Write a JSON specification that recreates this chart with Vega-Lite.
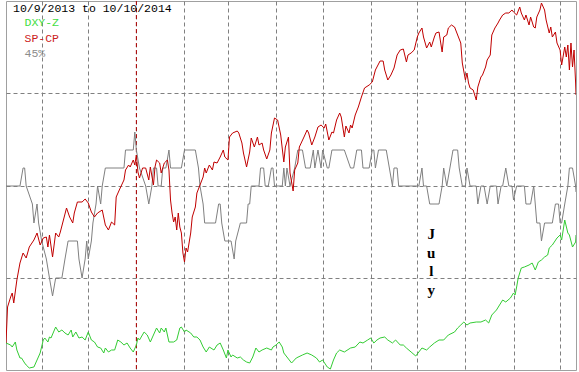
{
"$schema":"https://vega.github.io/schema/vega-lite/v6.json",
"width":570,"height":369,
"autosize":{"type":"none"},
"padding":{"left":6,"top":1,"right":3,"bottom":2},
"background":"#ffffff",
"config":{"view":{"stroke":"#a0a0a0","strokeWidth":1},
"axis":{"domain":false,"ticks":false,"labels":false,"gridColor":"#808080","gridDash":[4,3],"gridWidth":1,"gridOpacity":1}},
"layer":[
{"data":{"values":[{"date":"2014/01/01"}]},
"mark":{"type":"rule","color":"#b00000","strokeDash":[4,3],"strokeWidth":1},
"encoding":{"x":{"field":"date","type":"temporal","title":null,"scale":{"domain":[{"year":2013,"month":10,"date":9},{"year":2014,"month":10,"date":11,"hours":6}]},"axis":{"values":[{"year":2013,"month":11,"date":1},{"year":2013,"month":12,"date":1},{"year":2014,"month":1,"date":1},{"year":2014,"month":2,"date":1},{"year":2014,"month":3,"date":1},{"year":2014,"month":4,"date":1},{"year":2014,"month":5,"date":1},{"year":2014,"month":6,"date":1},{"year":2014,"month":7,"date":1},{"year":2014,"month":8,"date":1},{"year":2014,"month":9,"date":1},{"year":2014,"month":10,"date":1}]}}}},
{"data":{"values":[
{"series":"45%","date":"2013/10/09","value":184},{"series":"45%","date":"2013/10/18","value":184},{"series":"45%","date":"2013/10/20","value":202},{"series":"45%","date":"2013/10/21","value":202},{"series":"45%","date":"2013/10/22","value":184},{"series":"45%","date":"2013/10/26","value":166},{"series":"45%","date":"2013/10/27","value":147},{"series":"45%","date":"2013/10/29","value":166},{"series":"45%","date":"2013/10/30","value":147},{"series":"45%","date":"2013/11/01","value":129},{"series":"45%","date":"2013/11/04","value":111},{"series":"45%","date":"2013/11/06","value":92},{"series":"45%","date":"2013/11/08","value":74},{"series":"45%","date":"2013/11/10","value":92},{"series":"45%","date":"2013/11/14","value":92},{"series":"45%","date":"2013/11/16","value":111},{"series":"45%","date":"2013/11/18","value":129},{"series":"45%","date":"2013/11/24","value":129},{"series":"45%","date":"2013/11/25","value":111},{"series":"45%","date":"2013/11/27","value":92},{"series":"45%","date":"2013/11/29","value":111},{"series":"45%","date":"2013/11/30","value":129},{"series":"45%","date":"2013/12/01","value":111},{"series":"45%","date":"2013/12/03","value":129},{"series":"45%","date":"2013/12/04","value":147},{"series":"45%","date":"2013/12/06","value":166},{"series":"45%","date":"2013/12/07","value":184},{"series":"45%","date":"2013/12/09","value":166},{"series":"45%","date":"2013/12/10","value":184},{"series":"45%","date":"2013/12/12","value":202},{"series":"45%","date":"2013/12/24","value":202},{"series":"45%","date":"2013/12/25","value":220},{"series":"45%","date":"2013/12/30","value":220},{"series":"45%","date":"2013/12/31","value":238},{"series":"45%","date":"2014/01/01","value":220},{"series":"45%","date":"2014/01/03","value":202},{"series":"45%","date":"2014/01/07","value":184},{"series":"45%","date":"2014/01/09","value":166},{"series":"45%","date":"2014/01/11","value":184},{"series":"45%","date":"2014/01/12","value":202},{"series":"45%","date":"2014/01/14","value":202},{"series":"45%","date":"2014/01/15","value":184},{"series":"45%","date":"2014/01/17","value":184},{"series":"45%","date":"2014/01/18","value":202},{"series":"45%","date":"2014/01/20","value":202},{"series":"45%","date":"2014/01/22","value":220},{"series":"45%","date":"2014/01/23","value":202},{"series":"45%","date":"2014/01/30","value":202},{"series":"45%","date":"2014/02/01","value":220},{"series":"45%","date":"2014/02/08","value":220},{"series":"45%","date":"2014/02/10","value":202},{"series":"45%","date":"2014/02/11","value":184},{"series":"45%","date":"2014/02/13","value":166},{"series":"45%","date":"2014/02/14","value":147},{"series":"45%","date":"2014/02/21","value":147},{"series":"45%","date":"2014/02/23","value":166},{"series":"45%","date":"2014/02/24","value":166},{"series":"45%","date":"2014/02/25","value":147},{"series":"45%","date":"2014/02/27","value":129},{"series":"45%","date":"2014/03/03","value":129},{"series":"45%","date":"2014/03/05","value":111},{"series":"45%","date":"2014/03/06","value":129},{"series":"45%","date":"2014/03/09","value":147},{"series":"45%","date":"2014/03/13","value":147},{"series":"45%","date":"2014/03/14","value":166},{"series":"45%","date":"2014/03/15","value":166},{"series":"45%","date":"2014/03/16","value":184},{"series":"45%","date":"2014/03/21","value":184},{"series":"45%","date":"2014/03/22","value":202},{"series":"45%","date":"2014/03/24","value":202},{"series":"45%","date":"2014/03/25","value":184},{"series":"45%","date":"2014/03/27","value":184},{"series":"45%","date":"2014/03/29","value":202},{"series":"45%","date":"2014/03/30","value":202},{"series":"45%","date":"2014/03/31","value":184},{"series":"45%","date":"2014/04/05","value":184},{"series":"45%","date":"2014/04/06","value":202},{"series":"45%","date":"2014/04/07","value":184},{"series":"45%","date":"2014/04/08","value":202},{"series":"45%","date":"2014/04/10","value":184},{"series":"45%","date":"2014/04/13","value":202},{"series":"45%","date":"2014/04/15","value":220},{"series":"45%","date":"2014/04/18","value":220},{"series":"45%","date":"2014/04/20","value":202},{"series":"45%","date":"2014/04/23","value":202},{"series":"45%","date":"2014/04/25","value":220},{"series":"45%","date":"2014/04/26","value":202},{"series":"45%","date":"2014/04/28","value":220},{"series":"45%","date":"2014/04/30","value":202},{"series":"45%","date":"2014/05/01","value":220},{"series":"45%","date":"2014/05/04","value":202},{"series":"45%","date":"2014/05/05","value":202},{"series":"45%","date":"2014/05/07","value":220},{"series":"45%","date":"2014/05/15","value":220},{"series":"45%","date":"2014/05/19","value":202},{"series":"45%","date":"2014/05/21","value":202},{"series":"45%","date":"2014/05/23","value":220},{"series":"45%","date":"2014/05/26","value":220},{"series":"45%","date":"2014/05/27","value":202},{"series":"45%","date":"2014/05/31","value":202},{"series":"45%","date":"2014/06/02","value":220},{"series":"45%","date":"2014/06/03","value":220},{"series":"45%","date":"2014/06/04","value":202},{"series":"45%","date":"2014/06/06","value":220},{"series":"45%","date":"2014/06/11","value":220},{"series":"45%","date":"2014/06/15","value":184},{"series":"45%","date":"2014/06/16","value":202},{"series":"45%","date":"2014/06/18","value":202},{"series":"45%","date":"2014/06/19","value":184},{"series":"45%","date":"2014/07/02","value":184},{"series":"45%","date":"2014/07/04","value":202},{"series":"45%","date":"2014/07/05","value":184},{"series":"45%","date":"2014/07/07","value":184},{"series":"45%","date":"2014/07/09","value":166},{"series":"45%","date":"2014/07/15","value":166},{"series":"45%","date":"2014/07/17","value":184},{"series":"45%","date":"2014/07/18","value":202},{"series":"45%","date":"2014/07/20","value":184},{"series":"45%","date":"2014/07/22","value":202},{"series":"45%","date":"2014/07/24","value":220},{"series":"45%","date":"2014/07/27","value":220},{"series":"45%","date":"2014/07/28","value":202},{"series":"45%","date":"2014/07/30","value":184},{"series":"45%","date":"2014/08/01","value":184},{"series":"45%","date":"2014/08/02","value":202},{"series":"45%","date":"2014/08/04","value":184},{"series":"45%","date":"2014/08/08","value":184},{"series":"45%","date":"2014/08/09","value":166},{"series":"45%","date":"2014/08/11","value":184},{"series":"45%","date":"2014/08/13","value":184},{"series":"45%","date":"2014/08/15","value":166},{"series":"45%","date":"2014/08/17","value":184},{"series":"45%","date":"2014/08/21","value":184},{"series":"45%","date":"2014/08/22","value":166},{"series":"45%","date":"2014/08/24","value":184},{"series":"45%","date":"2014/08/25","value":184},{"series":"45%","date":"2014/08/27","value":202},{"series":"45%","date":"2014/08/29","value":184},{"series":"45%","date":"2014/08/31","value":184},{"series":"45%","date":"2014/09/01","value":170},{"series":"45%","date":"2014/09/03","value":184},{"series":"45%","date":"2014/09/08","value":184},{"series":"45%","date":"2014/09/09","value":166},{"series":"45%","date":"2014/09/12","value":166},{"series":"45%","date":"2014/09/14","value":184},{"series":"45%","date":"2014/09/15","value":166},{"series":"45%","date":"2014/09/16","value":147},{"series":"45%","date":"2014/09/18","value":147},{"series":"45%","date":"2014/09/19","value":129},{"series":"45%","date":"2014/09/21","value":147},{"series":"45%","date":"2014/09/26","value":147},{"series":"45%","date":"2014/09/28","value":166},{"series":"45%","date":"2014/09/30","value":166},{"series":"45%","date":"2014/10/01","value":147},{"series":"45%","date":"2014/10/02","value":147},{"series":"45%","date":"2014/10/04","value":166},{"series":"45%","date":"2014/10/06","value":184},{"series":"45%","date":"2014/10/07","value":202},{"series":"45%","date":"2014/10/09","value":202},{"series":"45%","date":"2014/10/11","value":184},{"series":"45%","date":"2014/10/11 06:00","value":178},
{"series":"DXY-Z","date":"2013/10/09","value":27},{"series":"DXY-Z","date":"2013/10/12","value":25},{"series":"DXY-Z","date":"2013/10/13","value":23},{"series":"DXY-Z","date":"2013/10/15","value":28},{"series":"DXY-Z","date":"2013/10/16","value":20},{"series":"DXY-Z","date":"2013/10/18","value":12},{"series":"DXY-Z","date":"2013/10/19","value":12},{"series":"DXY-Z","date":"2013/10/21","value":7},{"series":"DXY-Z","date":"2013/10/22","value":5},{"series":"DXY-Z","date":"2013/10/24","value":2},{"series":"DXY-Z","date":"2013/10/27","value":3},{"series":"DXY-Z","date":"2013/10/29","value":10},{"series":"DXY-Z","date":"2013/10/31","value":17},{"series":"DXY-Z","date":"2013/11/02","value":30},{"series":"DXY-Z","date":"2013/11/03","value":32},{"series":"DXY-Z","date":"2013/11/05","value":28},{"series":"DXY-Z","date":"2013/11/06","value":33},{"series":"DXY-Z","date":"2013/11/07","value":32},{"series":"DXY-Z","date":"2013/11/10","value":43},{"series":"DXY-Z","date":"2013/11/12","value":38},{"series":"DXY-Z","date":"2013/11/14","value":40},{"series":"DXY-Z","date":"2013/11/16","value":37},{"series":"DXY-Z","date":"2013/11/18","value":35},{"series":"DXY-Z","date":"2013/11/20","value":40},{"series":"DXY-Z","date":"2013/11/21","value":33},{"series":"DXY-Z","date":"2013/11/23","value":38},{"series":"DXY-Z","date":"2013/11/25","value":32},{"series":"DXY-Z","date":"2013/11/27","value":33},{"series":"DXY-Z","date":"2013/11/29","value":30},{"series":"DXY-Z","date":"2013/12/01","value":38},{"series":"DXY-Z","date":"2013/12/03","value":30},{"series":"DXY-Z","date":"2013/12/05","value":28},{"series":"DXY-Z","date":"2013/12/07","value":23},{"series":"DXY-Z","date":"2013/12/09","value":22},{"series":"DXY-Z","date":"2013/12/11","value":17},{"series":"DXY-Z","date":"2013/12/12","value":22},{"series":"DXY-Z","date":"2013/12/14","value":18},{"series":"DXY-Z","date":"2013/12/16","value":20},{"series":"DXY-Z","date":"2013/12/18","value":20},{"series":"DXY-Z","date":"2013/12/20","value":30},{"series":"DXY-Z","date":"2013/12/22","value":28},{"series":"DXY-Z","date":"2013/12/24","value":25},{"series":"DXY-Z","date":"2013/12/26","value":27},{"series":"DXY-Z","date":"2013/12/28","value":22},{"series":"DXY-Z","date":"2013/12/30","value":18},{"series":"DXY-Z","date":"2014/01/01","value":25},{"series":"DXY-Z","date":"2014/01/02","value":32},{"series":"DXY-Z","date":"2014/01/03","value":30},{"series":"DXY-Z","date":"2014/01/06","value":38},{"series":"DXY-Z","date":"2014/01/08","value":35},{"series":"DXY-Z","date":"2014/01/10","value":28},{"series":"DXY-Z","date":"2014/01/12","value":35},{"series":"DXY-Z","date":"2014/01/14","value":42},{"series":"DXY-Z","date":"2014/01/16","value":37},{"series":"DXY-Z","date":"2014/01/17","value":42},{"series":"DXY-Z","date":"2014/01/19","value":38},{"series":"DXY-Z","date":"2014/01/20","value":42},{"series":"DXY-Z","date":"2014/01/22","value":28},{"series":"DXY-Z","date":"2014/01/25","value":28},{"series":"DXY-Z","date":"2014/01/27","value":30},{"series":"DXY-Z","date":"2014/01/29","value":42},{"series":"DXY-Z","date":"2014/01/30","value":43},{"series":"DXY-Z","date":"2014/02/01","value":38},{"series":"DXY-Z","date":"2014/02/02","value":40},{"series":"DXY-Z","date":"2014/02/05","value":37},{"series":"DXY-Z","date":"2014/02/07","value":33},{"series":"DXY-Z","date":"2014/02/09","value":33},{"series":"DXY-Z","date":"2014/02/11","value":30},{"series":"DXY-Z","date":"2014/02/13","value":23},{"series":"DXY-Z","date":"2014/02/15","value":18},{"series":"DXY-Z","date":"2014/02/17","value":23},{"series":"DXY-Z","date":"2014/02/20","value":20},{"series":"DXY-Z","date":"2014/02/22","value":25},{"series":"DXY-Z","date":"2014/02/24","value":27},{"series":"DXY-Z","date":"2014/02/26","value":20},{"series":"DXY-Z","date":"2014/02/28","value":12},{"series":"DXY-Z","date":"2014/03/01","value":20},{"series":"DXY-Z","date":"2014/03/03","value":13},{"series":"DXY-Z","date":"2014/03/04","value":15},{"series":"DXY-Z","date":"2014/03/07","value":12},{"series":"DXY-Z","date":"2014/03/09","value":13},{"series":"DXY-Z","date":"2014/03/11","value":10},{"series":"DXY-Z","date":"2014/03/13","value":8},{"series":"DXY-Z","date":"2014/03/15","value":7},{"series":"DXY-Z","date":"2014/03/17","value":13},{"series":"DXY-Z","date":"2014/03/19","value":22},{"series":"DXY-Z","date":"2014/03/21","value":18},{"series":"DXY-Z","date":"2014/03/23","value":20},{"series":"DXY-Z","date":"2014/03/26","value":22},{"series":"DXY-Z","date":"2014/03/29","value":20},{"series":"DXY-Z","date":"2014/03/30","value":23},{"series":"DXY-Z","date":"2014/04/01","value":25},{"series":"DXY-Z","date":"2014/04/03","value":28},{"series":"DXY-Z","date":"2014/04/05","value":23},{"series":"DXY-Z","date":"2014/04/06","value":17},{"series":"DXY-Z","date":"2014/04/08","value":13},{"series":"DXY-Z","date":"2014/04/11","value":7},{"series":"DXY-Z","date":"2014/04/14","value":12},{"series":"DXY-Z","date":"2014/04/18","value":15},{"series":"DXY-Z","date":"2014/04/21","value":17},{"series":"DXY-Z","date":"2014/04/24","value":15},{"series":"DXY-Z","date":"2014/04/27","value":12},{"series":"DXY-Z","date":"2014/04/29","value":8},{"series":"DXY-Z","date":"2014/05/01","value":10},{"series":"DXY-Z","date":"2014/05/04","value":3},{"series":"DXY-Z","date":"2014/05/06","value":1},{"series":"DXY-Z","date":"2014/05/08","value":10},{"series":"DXY-Z","date":"2014/05/10","value":17},{"series":"DXY-Z","date":"2014/05/12","value":20},{"series":"DXY-Z","date":"2014/05/15","value":18},{"series":"DXY-Z","date":"2014/05/19","value":22},{"series":"DXY-Z","date":"2014/05/22","value":23},{"series":"DXY-Z","date":"2014/05/25","value":28},{"series":"DXY-Z","date":"2014/05/27","value":27},{"series":"DXY-Z","date":"2014/05/30","value":30},{"series":"DXY-Z","date":"2014/06/01","value":32},{"series":"DXY-Z","date":"2014/06/03","value":27},{"series":"DXY-Z","date":"2014/06/05","value":30},{"series":"DXY-Z","date":"2014/06/07","value":32},{"series":"DXY-Z","date":"2014/06/10","value":33},{"series":"DXY-Z","date":"2014/06/12","value":30},{"series":"DXY-Z","date":"2014/06/15","value":27},{"series":"DXY-Z","date":"2014/06/17","value":30},{"series":"DXY-Z","date":"2014/06/20","value":25},{"series":"DXY-Z","date":"2014/06/22","value":25},{"series":"DXY-Z","date":"2014/06/24","value":22},{"series":"DXY-Z","date":"2014/06/27","value":18},{"series":"DXY-Z","date":"2014/06/30","value":14},{"series":"DXY-Z","date":"2014/07/02","value":18},{"series":"DXY-Z","date":"2014/07/04","value":22},{"series":"DXY-Z","date":"2014/07/07","value":20},{"series":"DXY-Z","date":"2014/07/09","value":23},{"series":"DXY-Z","date":"2014/07/12","value":27},{"series":"DXY-Z","date":"2014/07/15","value":30},{"series":"DXY-Z","date":"2014/07/18","value":30},{"series":"DXY-Z","date":"2014/07/21","value":35},{"series":"DXY-Z","date":"2014/07/25","value":38},{"series":"DXY-Z","date":"2014/07/27","value":42},{"series":"DXY-Z","date":"2014/07/29","value":45},{"series":"DXY-Z","date":"2014/07/31","value":48},{"series":"DXY-Z","date":"2014/08/02","value":45},{"series":"DXY-Z","date":"2014/08/04","value":47},{"series":"DXY-Z","date":"2014/08/08","value":48},{"series":"DXY-Z","date":"2014/08/11","value":48},{"series":"DXY-Z","date":"2014/08/14","value":50},{"series":"DXY-Z","date":"2014/08/16","value":47},{"series":"DXY-Z","date":"2014/08/18","value":55},{"series":"DXY-Z","date":"2014/08/21","value":60},{"series":"DXY-Z","date":"2014/08/23","value":65},{"series":"DXY-Z","date":"2014/08/25","value":70},{"series":"DXY-Z","date":"2014/08/27","value":68},{"series":"DXY-Z","date":"2014/08/30","value":72},{"series":"DXY-Z","date":"2014/09/01","value":77},{"series":"DXY-Z","date":"2014/09/02","value":75},{"series":"DXY-Z","date":"2014/09/03","value":83},{"series":"DXY-Z","date":"2014/09/04","value":92},{"series":"DXY-Z","date":"2014/09/06","value":102},{"series":"DXY-Z","date":"2014/09/08","value":103},{"series":"DXY-Z","date":"2014/09/11","value":105},{"series":"DXY-Z","date":"2014/09/13","value":107},{"series":"DXY-Z","date":"2014/09/15","value":100},{"series":"DXY-Z","date":"2014/09/17","value":108},{"series":"DXY-Z","date":"2014/09/19","value":110},{"series":"DXY-Z","date":"2014/09/21","value":113},{"series":"DXY-Z","date":"2014/09/23","value":115},{"series":"DXY-Z","date":"2014/09/24","value":122},{"series":"DXY-Z","date":"2014/09/26","value":125},{"series":"DXY-Z","date":"2014/09/29","value":132},{"series":"DXY-Z","date":"2014/10/01","value":135},{"series":"DXY-Z","date":"2014/10/02","value":130},{"series":"DXY-Z","date":"2014/10/03","value":140},{"series":"DXY-Z","date":"2014/10/04","value":150},{"series":"DXY-Z","date":"2014/10/06","value":137},{"series":"DXY-Z","date":"2014/10/07","value":135},{"series":"DXY-Z","date":"2014/10/09","value":123},{"series":"DXY-Z","date":"2014/10/11","value":128},{"series":"DXY-Z","date":"2014/10/11 06:00","value":135},
{"series":"SP-CP","date":"2013/10/09","value":27},{"series":"SP-CP","date":"2013/10/10","value":63},{"series":"SP-CP","date":"2013/10/12","value":73},{"series":"SP-CP","date":"2013/10/13","value":77},{"series":"SP-CP","date":"2013/10/14","value":67},{"series":"SP-CP","date":"2013/10/16","value":90},{"series":"SP-CP","date":"2013/10/18","value":107},{"series":"SP-CP","date":"2013/10/20","value":117},{"series":"SP-CP","date":"2013/10/22","value":112},{"series":"SP-CP","date":"2013/10/24","value":123},{"series":"SP-CP","date":"2013/10/27","value":130},{"series":"SP-CP","date":"2013/10/29","value":137},{"series":"SP-CP","date":"2013/10/31","value":125},{"series":"SP-CP","date":"2013/11/02","value":132},{"series":"SP-CP","date":"2013/11/04","value":133},{"series":"SP-CP","date":"2013/11/05","value":123},{"series":"SP-CP","date":"2013/11/06","value":135},{"series":"SP-CP","date":"2013/11/08","value":113},{"series":"SP-CP","date":"2013/11/10","value":137},{"series":"SP-CP","date":"2013/11/12","value":133},{"series":"SP-CP","date":"2013/11/13","value":138},{"series":"SP-CP","date":"2013/11/15","value":150},{"series":"SP-CP","date":"2013/11/17","value":162},{"series":"SP-CP","date":"2013/11/19","value":153},{"series":"SP-CP","date":"2013/11/21","value":147},{"series":"SP-CP","date":"2013/11/22","value":157},{"series":"SP-CP","date":"2013/11/24","value":168},{"series":"SP-CP","date":"2013/11/27","value":168},{"series":"SP-CP","date":"2013/11/29","value":171},{"series":"SP-CP","date":"2013/12/01","value":167},{"series":"SP-CP","date":"2013/12/03","value":158},{"series":"SP-CP","date":"2013/12/05","value":153},{"series":"SP-CP","date":"2013/12/07","value":157},{"series":"SP-CP","date":"2013/12/10","value":160},{"series":"SP-CP","date":"2013/12/12","value":145},{"series":"SP-CP","date":"2013/12/14","value":140},{"series":"SP-CP","date":"2013/12/16","value":148},{"series":"SP-CP","date":"2013/12/18","value":145},{"series":"SP-CP","date":"2013/12/19","value":173},{"series":"SP-CP","date":"2013/12/21","value":180},{"series":"SP-CP","date":"2013/12/24","value":190},{"series":"SP-CP","date":"2013/12/25","value":200},{"series":"SP-CP","date":"2013/12/27","value":205},{"series":"SP-CP","date":"2013/12/28","value":203},{"series":"SP-CP","date":"2013/12/30","value":210},{"series":"SP-CP","date":"2013/12/31","value":205},{"series":"SP-CP","date":"2014/01/01","value":215},{"series":"SP-CP","date":"2014/01/02","value":198},{"series":"SP-CP","date":"2014/01/03","value":192},{"series":"SP-CP","date":"2014/01/05","value":202},{"series":"SP-CP","date":"2014/01/07","value":202},{"series":"SP-CP","date":"2014/01/09","value":190},{"series":"SP-CP","date":"2014/01/10","value":203},{"series":"SP-CP","date":"2014/01/12","value":185},{"series":"SP-CP","date":"2014/01/13","value":203},{"series":"SP-CP","date":"2014/01/14","value":210},{"series":"SP-CP","date":"2014/01/16","value":207},{"series":"SP-CP","date":"2014/01/17","value":197},{"series":"SP-CP","date":"2014/01/19","value":207},{"series":"SP-CP","date":"2014/01/21","value":210},{"series":"SP-CP","date":"2014/01/22","value":200},{"series":"SP-CP","date":"2014/01/23","value":170},{"series":"SP-CP","date":"2014/01/24","value":157},{"series":"SP-CP","date":"2014/01/25","value":148},{"series":"SP-CP","date":"2014/01/26","value":153},{"series":"SP-CP","date":"2014/01/27","value":140},{"series":"SP-CP","date":"2014/01/28","value":157},{"series":"SP-CP","date":"2014/01/29","value":143},{"series":"SP-CP","date":"2014/01/30","value":137},{"series":"SP-CP","date":"2014/01/31","value":117},{"series":"SP-CP","date":"2014/02/01","value":108},{"series":"SP-CP","date":"2014/02/02","value":122},{"series":"SP-CP","date":"2014/02/03","value":118},{"series":"SP-CP","date":"2014/02/05","value":137},{"series":"SP-CP","date":"2014/02/06","value":153},{"series":"SP-CP","date":"2014/02/08","value":163},{"series":"SP-CP","date":"2014/02/09","value":177},{"series":"SP-CP","date":"2014/02/11","value":185},{"series":"SP-CP","date":"2014/02/13","value":193},{"series":"SP-CP","date":"2014/02/14","value":202},{"series":"SP-CP","date":"2014/02/15","value":197},{"series":"SP-CP","date":"2014/02/17","value":205},{"series":"SP-CP","date":"2014/02/19","value":200},{"series":"SP-CP","date":"2014/02/20","value":208},{"series":"SP-CP","date":"2014/02/22","value":207},{"series":"SP-CP","date":"2014/02/24","value":213},{"series":"SP-CP","date":"2014/02/26","value":220},{"series":"SP-CP","date":"2014/02/27","value":213},{"series":"SP-CP","date":"2014/03/01","value":210},{"series":"SP-CP","date":"2014/03/02","value":233},{"series":"SP-CP","date":"2014/03/04","value":237},{"series":"SP-CP","date":"2014/03/07","value":239},{"series":"SP-CP","date":"2014/03/08","value":237},{"series":"SP-CP","date":"2014/03/10","value":227},{"series":"SP-CP","date":"2014/03/11","value":217},{"series":"SP-CP","date":"2014/03/13","value":203},{"series":"SP-CP","date":"2014/03/15","value":218},{"series":"SP-CP","date":"2014/03/16","value":232},{"series":"SP-CP","date":"2014/03/18","value":223},{"series":"SP-CP","date":"2014/03/20","value":233},{"series":"SP-CP","date":"2014/03/21","value":225},{"series":"SP-CP","date":"2014/03/23","value":227},{"series":"SP-CP","date":"2014/03/24","value":220},{"series":"SP-CP","date":"2014/03/26","value":211},{"series":"SP-CP","date":"2014/03/28","value":220},{"series":"SP-CP","date":"2014/03/29","value":237},{"series":"SP-CP","date":"2014/03/31","value":252},{"series":"SP-CP","date":"2014/04/02","value":250},{"series":"SP-CP","date":"2014/04/04","value":235},{"series":"SP-CP","date":"2014/04/06","value":208},{"series":"SP-CP","date":"2014/04/07","value":223},{"series":"SP-CP","date":"2014/04/09","value":233},{"series":"SP-CP","date":"2014/04/10","value":197},{"series":"SP-CP","date":"2014/04/12","value":179},{"series":"SP-CP","date":"2014/04/13","value":200},{"series":"SP-CP","date":"2014/04/15","value":207},{"series":"SP-CP","date":"2014/04/16","value":223},{"series":"SP-CP","date":"2014/04/19","value":233},{"series":"SP-CP","date":"2014/04/21","value":240},{"series":"SP-CP","date":"2014/04/22","value":237},{"series":"SP-CP","date":"2014/04/24","value":225},{"series":"SP-CP","date":"2014/04/26","value":233},{"series":"SP-CP","date":"2014/04/28","value":243},{"series":"SP-CP","date":"2014/04/30","value":245},{"series":"SP-CP","date":"2014/05/02","value":242},{"series":"SP-CP","date":"2014/05/03","value":246},{"series":"SP-CP","date":"2014/05/05","value":230},{"series":"SP-CP","date":"2014/05/07","value":238},{"series":"SP-CP","date":"2014/05/08","value":237},{"series":"SP-CP","date":"2014/05/10","value":250},{"series":"SP-CP","date":"2014/05/12","value":257},{"series":"SP-CP","date":"2014/05/13","value":253},{"series":"SP-CP","date":"2014/05/15","value":233},{"series":"SP-CP","date":"2014/05/16","value":244},{"series":"SP-CP","date":"2014/05/18","value":237},{"series":"SP-CP","date":"2014/05/19","value":245},{"series":"SP-CP","date":"2014/05/20","value":242},{"series":"SP-CP","date":"2014/05/22","value":255},{"series":"SP-CP","date":"2014/05/24","value":263},{"series":"SP-CP","date":"2014/05/26","value":273},{"series":"SP-CP","date":"2014/05/28","value":282},{"series":"SP-CP","date":"2014/05/31","value":285},{"series":"SP-CP","date":"2014/06/02","value":288},{"series":"SP-CP","date":"2014/06/04","value":300},{"series":"SP-CP","date":"2014/06/07","value":309},{"series":"SP-CP","date":"2014/06/09","value":309},{"series":"SP-CP","date":"2014/06/10","value":300},{"series":"SP-CP","date":"2014/06/12","value":290},{"series":"SP-CP","date":"2014/06/14","value":295},{"series":"SP-CP","date":"2014/06/16","value":302},{"series":"SP-CP","date":"2014/06/18","value":315},{"series":"SP-CP","date":"2014/06/20","value":320},{"series":"SP-CP","date":"2014/06/22","value":321},{"series":"SP-CP","date":"2014/06/24","value":308},{"series":"SP-CP","date":"2014/06/25","value":315},{"series":"SP-CP","date":"2014/06/27","value":317},{"series":"SP-CP","date":"2014/06/29","value":320},{"series":"SP-CP","date":"2014/07/01","value":333},{"series":"SP-CP","date":"2014/07/02","value":337},{"series":"SP-CP","date":"2014/07/04","value":342},{"series":"SP-CP","date":"2014/07/05","value":333},{"series":"SP-CP","date":"2014/07/07","value":322},{"series":"SP-CP","date":"2014/07/09","value":328},{"series":"SP-CP","date":"2014/07/10","value":323},{"series":"SP-CP","date":"2014/07/12","value":333},{"series":"SP-CP","date":"2014/07/13","value":337},{"series":"SP-CP","date":"2014/07/15","value":338},{"series":"SP-CP","date":"2014/07/17","value":318},{"series":"SP-CP","date":"2014/07/18","value":333},{"series":"SP-CP","date":"2014/07/20","value":335},{"series":"SP-CP","date":"2014/07/21","value":342},{"series":"SP-CP","date":"2014/07/23","value":345},{"series":"SP-CP","date":"2014/07/25","value":343},{"series":"SP-CP","date":"2014/07/27","value":335},{"series":"SP-CP","date":"2014/07/29","value":327},{"series":"SP-CP","date":"2014/07/30","value":307},{"series":"SP-CP","date":"2014/08/01","value":290},{"series":"SP-CP","date":"2014/08/02","value":297},{"series":"SP-CP","date":"2014/08/03","value":287},{"series":"SP-CP","date":"2014/08/04","value":282},{"series":"SP-CP","date":"2014/08/06","value":280},{"series":"SP-CP","date":"2014/08/08","value":270},{"series":"SP-CP","date":"2014/08/09","value":283},{"series":"SP-CP","date":"2014/08/11","value":293},{"series":"SP-CP","date":"2014/08/12","value":295},{"series":"SP-CP","date":"2014/08/14","value":303},{"series":"SP-CP","date":"2014/08/15","value":310},{"series":"SP-CP","date":"2014/08/17","value":315},{"series":"SP-CP","date":"2014/08/18","value":335},{"series":"SP-CP","date":"2014/08/20","value":342},{"series":"SP-CP","date":"2014/08/22","value":347},{"series":"SP-CP","date":"2014/08/23","value":350},{"series":"SP-CP","date":"2014/08/25","value":355},{"series":"SP-CP","date":"2014/08/27","value":357},{"series":"SP-CP","date":"2014/08/29","value":357},{"series":"SP-CP","date":"2014/08/31","value":360},{"series":"SP-CP","date":"2014/09/01","value":358},{"series":"SP-CP","date":"2014/09/03","value":355},{"series":"SP-CP","date":"2014/09/05","value":363},{"series":"SP-CP","date":"2014/09/06","value":357},{"series":"SP-CP","date":"2014/09/08","value":350},{"series":"SP-CP","date":"2014/09/09","value":355},{"series":"SP-CP","date":"2014/09/11","value":345},{"series":"SP-CP","date":"2014/09/12","value":353},{"series":"SP-CP","date":"2014/09/14","value":343},{"series":"SP-CP","date":"2014/09/15","value":342},{"series":"SP-CP","date":"2014/09/16","value":353},{"series":"SP-CP","date":"2014/09/18","value":360},{"series":"SP-CP","date":"2014/09/19","value":367},{"series":"SP-CP","date":"2014/09/21","value":360},{"series":"SP-CP","date":"2014/09/22","value":350},{"series":"SP-CP","date":"2014/09/24","value":337},{"series":"SP-CP","date":"2014/09/25","value":343},{"series":"SP-CP","date":"2014/09/26","value":333},{"series":"SP-CP","date":"2014/09/28","value":338},{"series":"SP-CP","date":"2014/09/29","value":327},{"series":"SP-CP","date":"2014/10/01","value":320},{"series":"SP-CP","date":"2014/10/02","value":305},{"series":"SP-CP","date":"2014/10/04","value":323},{"series":"SP-CP","date":"2014/10/05","value":313},{"series":"SP-CP","date":"2014/10/06","value":325},{"series":"SP-CP","date":"2014/10/07","value":300},{"series":"SP-CP","date":"2014/10/08","value":327},{"series":"SP-CP","date":"2014/10/09","value":303},{"series":"SP-CP","date":"2014/10/10","value":320},{"series":"SP-CP","date":"2014/10/11","value":287},{"series":"SP-CP","date":"2014/10/11 06:00","value":275}
]},
"mark":{"type":"line","strokeWidth":1,"clip":true},
"encoding":{
"x":{"field":"date","type":"temporal","title":null,"scale":{"domain":[{"year":2013,"month":10,"date":9},{"year":2014,"month":10,"date":11,"hours":6}]},"axis":{"values":[{"year":2013,"month":11,"date":1},{"year":2013,"month":12,"date":1},{"year":2014,"month":1,"date":1},{"year":2014,"month":2,"date":1},{"year":2014,"month":3,"date":1},{"year":2014,"month":4,"date":1},{"year":2014,"month":5,"date":1},{"year":2014,"month":6,"date":1},{"year":2014,"month":7,"date":1},{"year":2014,"month":8,"date":1},{"year":2014,"month":9,"date":1},{"year":2014,"month":10,"date":1}]}},
"y":{"field":"value","type":"quantitative","title":null,"scale":{"domain":[0,369],"nice":false,"zero":false},"axis":{"values":[92.25,184.5,276.75]}},
"color":{"field":"series","type":"nominal","scale":{"domain":["DXY-Z","SP-CP","45%"],"range":["#33cc33","#c00000","#808080"]},
"legend":{"orient":"none","legendX":7,"legendY":2,"padding":0,"title":"10/9/2013 to 10/10/2014","titleFont":"Liberation Mono","titleFontSize":11.5,"titleFontWeight":"normal","titleColor":"#000000","titlePadding":3,"labelFont":"Liberation Mono","labelFontSize":11.5,"labelColor":{"expr":"datum.label === 'DXY-Z' ? '#44dd44' : datum.label === 'SP-CP' ? '#cc2222' : '#8c8c8c'"},"symbolOpacity":0,"symbolSize":0,"symbolStrokeWidth":0,"labelOffset":0,"rowPadding":2.5}},
"order":{"value":0}
}},
{"data":{"values":[{"label":"J\nu\nl\ny","date":"2014/07/10","value":131}]},
"mark":{"type":"text","font":"Liberation Serif","fontSize":15,"fontWeight":"bold","lineBreak":"\n","lineHeight":18.5,"baseline":"alphabetic","align":"center","color":"#000000"},
"encoding":{
"x":{"field":"date","type":"temporal","title":null,"scale":{"domain":[{"year":2013,"month":10,"date":9},{"year":2014,"month":10,"date":11,"hours":6}]},"axis":{"values":[{"year":2013,"month":11,"date":1},{"year":2013,"month":12,"date":1},{"year":2014,"month":1,"date":1},{"year":2014,"month":2,"date":1},{"year":2014,"month":3,"date":1},{"year":2014,"month":4,"date":1},{"year":2014,"month":5,"date":1},{"year":2014,"month":6,"date":1},{"year":2014,"month":7,"date":1},{"year":2014,"month":8,"date":1},{"year":2014,"month":9,"date":1},{"year":2014,"month":10,"date":1}]}},
"y":{"field":"value","type":"quantitative","title":null,"scale":{"domain":[0,369],"nice":false,"zero":false},"axis":{"values":[92.25,184.5,276.75]}},
"text":{"field":"label"}
}}
]
}
